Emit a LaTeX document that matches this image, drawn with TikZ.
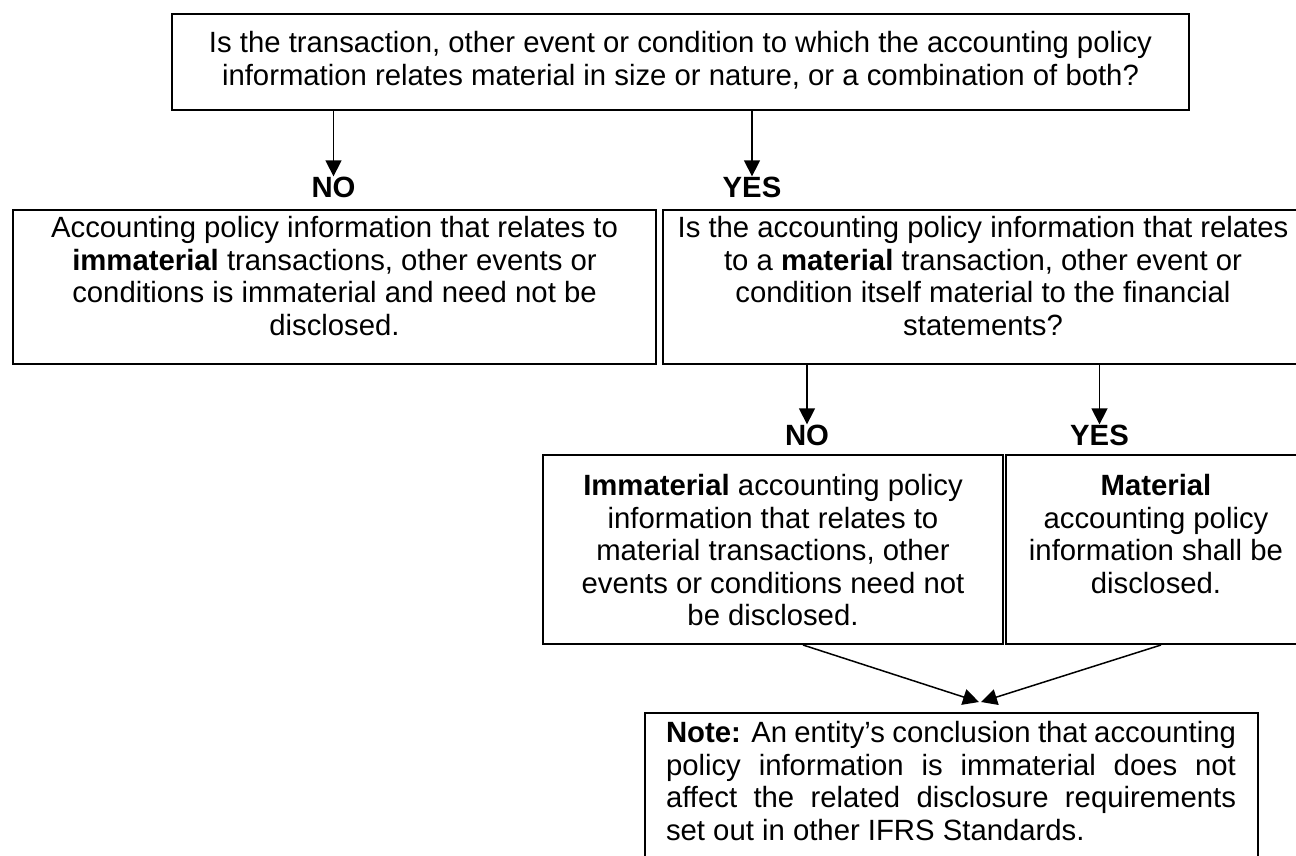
\documentclass[tikz,border=0pt]{standalone}
\usepackage{fontspec}
\setmainfont{Liberation Sans}
\usetikzlibrary{arrows.meta}
% text of a box: [alignment]{width}{height}{top gap}{text}
\newcommand{\boxtext}[5][\centering]{\parbox[c][#3pt][t]{#2pt}{#1\vspace*{#4pt}\strut #5}}

\begin{document}
\begin{tikzpicture}[x=1pt, y=-1pt,
  every node/.style={font=\fontsize{29.3pt}{32.5pt}\selectfont},
  flow box/.style={draw, line width=2pt, inner sep=0pt, anchor=north west},
  answer/.style={inner sep=0pt, anchor=base, font=\fontsize{29.3pt}{32.5pt}\selectfont\bfseries},
  flow/.style={line width=1.5pt, -{Triangle[length=16pt, width=16pt]}}]

\useasboundingbox (0,0) rectangle (1296,856);

\node[flow box] (question) at (171,13) {\boxtext{1017}{96}{16}{Is the transaction, other event or condition to which the accounting policy\\
  information relates material in size or nature, or a combination of both?}};

\node[flow box] (immaterial) at (12,209) {\boxtext{643}{154}{5}{Accounting policy information that relates to\\
  \textbf{immaterial} transactions, other events or\\ conditions is immaterial and need not be\\ disclosed.}};
\node[flow box] (askMaterial) at (662,209) {\boxtext{640}{154}{5}{Is the accounting policy information that relates\\
  to a \textbf{material} transaction, other event or\\ condition itself material to the financial\\ statements?}};

\node[flow box] (notDisclosed) at (542,454) {\boxtext{460}{189}{18}{\textbf{Immaterial} accounting policy\\
  information that relates to\\ material transactions, other\\ events or conditions need not\\ be disclosed.}};
\node[flow box] (disclosed) at (1005,454) {\boxtext{300}{189}{18}{\textbf{Material}\\ accounting policy\\
  information shall be\\ disclosed.}};

\node[flow box] (note) at (644,712) {\boxtext[\leftskip=21pt \rightskip=22pt ]{613}{150}{7}{\textbf{Note:} An entity’s conclusion that accounting\linebreak
  policy information is immaterial does not\linebreak affect the related disclosure requirements\linebreak set out in other IFRS Standards.}};

% answers
\node[answer] (noA) at (333.5,197) {NO};
\node[answer] (yesA) at (752,197) {YES};
\node[answer] (noB) at (807,445) {NO};
\node[answer] (yesB) at (1099.5,445) {YES};

\draw[flow] (question.south -| noA) -- (noA.north);
\draw[flow] (question.south -| yesA) -- (yesA.north);
\draw[flow] (askMaterial.south -| noB) -- (noB.north);
\draw[flow] (askMaterial.south -| yesB) -- (yesB.north);
\draw[flow] ([xshift=30pt]notDisclosed.south) -- ([xshift=27.5pt, yshift=10pt]note.north);
\draw[flow] ([xshift=5pt]disclosed.south) -- ([xshift=29.5pt, yshift=10pt]note.north);
\end{tikzpicture}
\end{document}
